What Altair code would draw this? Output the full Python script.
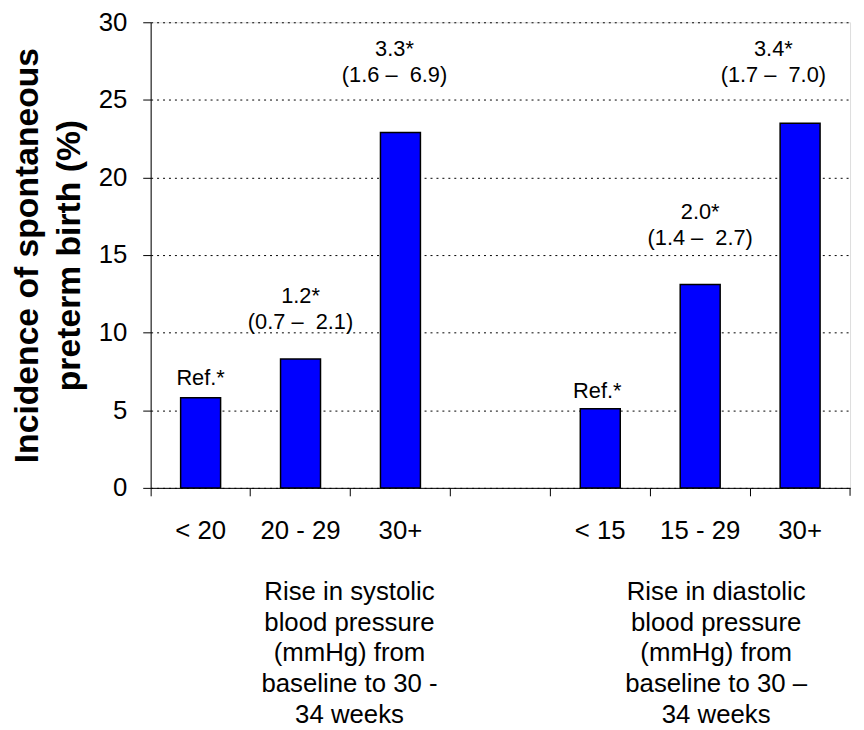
import json
import altair as alt
import pandas as pd

# ---- data -------------------------------------------------------------
slot_ids = ["0", "1", "2", "3", "4", "5", "6"]
tick_labels = ["< 20", "20 - 29", "30+", "", "< 15", "15 - 29", "30+"]

bar_slots = ["0", "1", "2", "4", "5", "6"]
incidence = [5.8, 8.3, 22.9, 5.1, 13.1, 23.5]
NB = "\u00a0"
or_labels = ["Ref.*",
             "1.2*\n(0.7 \u2013" + NB + " 2.1)",
             "3.3*\n(1.6 \u2013" + NB + " 6.9)",
             "Ref.*",
             "2.0*\n(1.4 \u2013" + NB + " 2.7)",
             "3.4*\n(1.7 \u2013" + NB + " 7.0)"]
label_y = [6.6, 11.9, 27.8, 5.8, 17.3, 27.8]
label_dx = [0, 0, -6, -3, 0, -27]

group_titles = ["Rise in systolic\nblood pressure\n(mmHg) from\nbaseline to 30 -\n34 weeks",
                "Rise in diastolic\nblood pressure\n(mmHg) from\nbaseline to 30 \u2013\n34 weeks"]
group_slots = ["1", "5"]

y_title = ["Incidence of spontaneous", "preterm birth (%)"]

FONT = "Liberation Sans"
W, H = 706, 470
BAND = W / len(slot_ids)

bars_df = pd.DataFrame({"slot": bar_slots, "value": incidence})
lab_df = pd.DataFrame({"slot": bar_slots, "text": or_labels, "ly": label_y, "dx": label_dx})

label_expr = json.dumps(tick_labels) + "[toNumber(datum.value)]"

x_scale = alt.Scale(domain=slot_ids, paddingInner=0, paddingOuter=0)
x_axis = alt.Axis(title=None, bandPosition=0,
                  labelExpr=label_expr, labelFont=FONT, labelFontSize=26,
                  labelColor="black", labelPadding=22, tickSize=8,
                  tickColor="black", domainColor="black", grid=False,
                  labelAngle=0)
y_scale = alt.Scale(domain=[0, 30], nice=False)
y_axis = alt.Axis(title=y_title, values=[0, 5, 10, 15, 20, 25, 30],
                  titleFont=FONT, titleFontSize=34, titleFontWeight="bold",
                  titleLineHeight=42, titleColor="black", titlePadding=12,
                  labelFont=FONT, labelFontSize=26, labelColor="black",
                  labelPadding=16, tickSize=8, tickColor="black",
                  domainColor="black", grid=True, gridColor="black",
                  gridDash=[2, 4], gridWidth=1)

bars = alt.Chart(bars_df).mark_bar(
    width=alt.RelativeBandSize(0.4), color="#0000ff", stroke="black", strokeWidth=1.5
).encode(
    x=alt.X("slot:N", scale=x_scale, axis=x_axis, sort=slot_ids),
    y=alt.Y("value:Q", scale=y_scale, axis=y_axis),
)

labels = alt.Chart(lab_df).transform_calculate(
    xo=f"datum.dx + {BAND / 2}"
).mark_text(
    font=FONT, fontSize=22, lineHeight=26, baseline="alphabetic",
    align="center", color="black", lineBreak="\n"
).encode(
    x=alt.X("slot:N", scale=x_scale, sort=slot_ids),
    xOffset=alt.XOffset("xo:Q", scale=None),
    y=alt.Y("ly:Q", scale=y_scale),
    text="text:N",
)

# closing tick at the right end of the category axis
end_tick = alt.Chart(pd.DataFrame({"slot": [slot_ids[-1]]})).mark_rule(
    color="black", strokeWidth=1
).encode(
    x=alt.X("slot:N", scale=x_scale, sort=slot_ids, bandPosition=1),
    y=alt.value(H),
    y2=alt.value(H + 8),
)

def group_layer(i, band_pos):
    df = pd.DataFrame({"slot": [group_slots[i]], "text": [group_titles[i]]})
    return alt.Chart(df).mark_text(
        font=FONT, fontSize=26, lineHeight=31, baseline="top",
        align="center", color="black", lineBreak="\n"
    ).encode(
        x=alt.X("slot:N", scale=x_scale, sort=slot_ids, bandPosition=band_pos),
        y=alt.value(H + 92),
        text="text:N",
    )

chart = alt.layer(bars, labels, end_tick, group_layer(0, 0.99), group_layer(1, 0.66)).properties(
    width=W, height=H,
    autosize=alt.AutoSizeParams(type="none"),
    padding={"left": 144, "top": 11, "right": 6, "bottom": 241},
).configure_view(stroke="#808080", strokeWidth=1).configure(background="white")

chart.save("out.html", embed_options={"renderer": "svg", "actions": False})
